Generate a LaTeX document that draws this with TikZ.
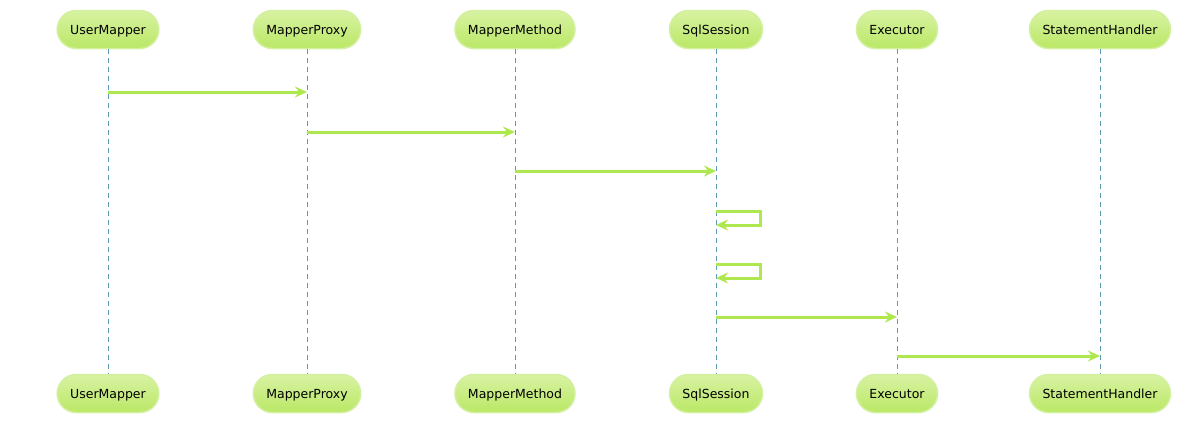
\documentclass[tikz,border=0pt]{standalone}
\usepackage{fontspec}
\setmainfont{DejaVu Sans}
\usetikzlibrary{arrows.meta}
\definecolor{boxtop}{HTML}{D8F2A2}
\definecolor{boxbot}{HTML}{BAE866}
\definecolor{boxedge}{HTML}{D2F0A0}
\definecolor{arr}{HTML}{AEE84E}
\definecolor{life}{HTML}{5B9BB8}
\begin{document}
\begin{tikzpicture}[x=1pt,y=-1pt,
  actor/.style={draw=boxedge, line width=1.5pt, top color=boxtop, bottom color=boxbot,
    rounded corners=19pt, minimum height=38pt, inner xsep=13pt, text depth=0pt,
    font=\fontsize{12.5}{14}\selectfont, text=black},
  lifeline/.style={draw=life, line width=0.7pt, dash pattern=on 5pt off 4pt},
  msg/.style={draw=arr, line width=3pt, -{Stealth[length=12pt,width=11pt,inset=4pt]}}]
\useasboundingbox (0,0) rectangle (1179,424);
\foreach \n/\x/\t in {um/108/UserMapper, mp/307/MapperProxy, mm/515/MapperMethod, ss/716/SqlSession, ex/897/Executor, sh/1100/StatementHandler}{
  \node[actor] (\n-top) at (\x,29.5) {\t};
  \node[actor] (\n-bot) at (\x,393.5) {\t};
  \draw[lifeline] (\n-top.south) -- (\n-bot.north);
}
\coordinate (a1) at (um-top.south |- 0,92);
\coordinate (a2) at (mp-top.south |- 0,92);
\draw[msg] (a1) -- (a2);
\coordinate (b1) at (mp-top.south |- 0,132);
\coordinate (b2) at (mm-top.south |- 0,132);
\draw[msg] (b1) -- (b2);
\coordinate (c1) at (mm-top.south |- 0,171);
\coordinate (c2) at (ss-top.south |- 0,171);
\draw[msg] (c1) -- (c2);
\coordinate (d1) at (ss-top.south |- 0,211);
\coordinate (d2) at (ss-top.south |- 0,225);
\draw[msg] (d1) -- ++(44,0) |- (d2);
\coordinate (e1) at (ss-top.south |- 0,264);
\coordinate (e2) at (ss-top.south |- 0,278);
\draw[msg] (e1) -- ++(44,0) |- (e2);
\coordinate (f1) at (ss-top.south |- 0,317);
\coordinate (f2) at (ex-top.south |- 0,317);
\draw[msg] (f1) -- (f2);
\coordinate (g1) at (ex-top.south |- 0,356);
\coordinate (g2) at (sh-top.south |- 0,356);
\draw[msg] (g1) -- (g2);
\end{tikzpicture}
\end{document}
